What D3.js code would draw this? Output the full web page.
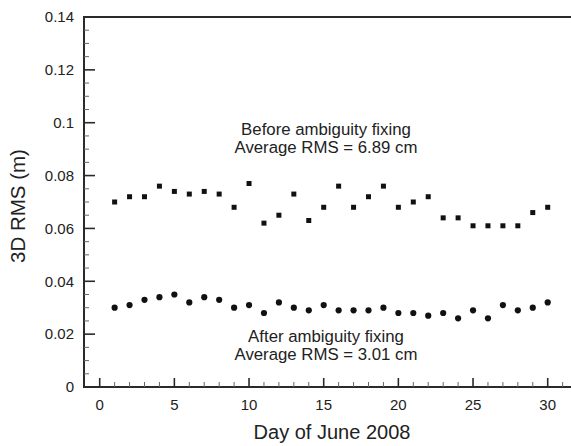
<!DOCTYPE html>
<html>
<head>
<meta charset="utf-8">
<script src="https://cdn.jsdelivr.net/npm/d3@7"></script>
<style>
  html, body { margin: 0; padding: 0; background: #fff; }
  svg { display: block; }
  text { font-family: "Liberation Sans", Arial, Helvetica, sans-serif; fill: #222; }
</style>
</head>
<body>
<svg id="chart" width="571" height="446"></svg>
<script>
// Days of June 2008
const days = d3.range(1, 31);
// 3D RMS (m) before ambiguity fixing
const rmsBefore = [0.070, 0.072, 0.072, 0.076, 0.074, 0.073, 0.074, 0.073, 0.068, 0.077,
                   0.062, 0.065, 0.073, 0.063, 0.068, 0.076, 0.068, 0.072, 0.076, 0.068,
                   0.070, 0.072, 0.064, 0.064, 0.061, 0.061, 0.061, 0.061, 0.066, 0.068];
// 3D RMS (m) after ambiguity fixing
const rmsAfter = [0.030, 0.031, 0.033, 0.034, 0.035, 0.032, 0.034, 0.033, 0.030, 0.031,
                  0.028, 0.032, 0.030, 0.029, 0.031, 0.029, 0.029, 0.029, 0.030, 0.028,
                  0.028, 0.027, 0.028, 0.026, 0.029, 0.026, 0.031, 0.029, 0.030, 0.032];
const xTicks = [0, 5, 10, 15, 20, 25, 30];
const yTicks = [0, 0.02, 0.04, 0.06, 0.08, 0.1, 0.12, 0.14];
const yTickLabels = ["0", "0.02", "0.04", "0.06", "0.08", "0.1", "0.12", "0.14"];
const labelBefore = ["Before ambiguity fixing", "Average RMS = 6.89 cm"];
const labelAfter = ["After ambiguity fixing", "Average RMS = 3.01 cm"];

const svg = d3.select("#chart");

const x = d3.scaleLinear().domain([0, 30]).range([99.7, 547.7]);
const y = d3.scaleLinear().domain([0, 0.14]).range([387, 17]);
const xLeft = x.invert(84);
const xRight = x.invert(580);

const axisColor = "#2a2a2a";

// Bottom axis: inward ticks, majors every 5 days, minors every day
const bottom = svg.append("g").attr("transform", `translate(0,${y(0)})`);
bottom.append("line").attr("x1", x(xLeft)).attr("x2", x(xRight))
  .attr("stroke", axisColor).attr("stroke-width", 2);
bottom.selectAll("line.minor").data(d3.range(0, 32).filter(d => d % 5 !== 0))
  .join("line").attr("class", "minor")
  .attr("x1", d => x(d)).attr("x2", d => x(d)).attr("y1", 0).attr("y2", -5)
  .attr("stroke", "#666").attr("stroke-width", 1);
bottom.selectAll("line.major").data(xTicks)
  .join("line").attr("class", "major")
  .attr("x1", d => x(d)).attr("x2", d => x(d)).attr("y1", 0).attr("y2", -9)
  .attr("stroke", axisColor).attr("stroke-width", 1.6);
bottom.selectAll("text").data(xTicks).join("text")
  .attr("x", d => x(d)).attr("y", 23)
  .attr("text-anchor", "middle").attr("font-size", 15)
  .text(d => d);

// Left axis: inward ticks, majors every 0.02, minors every 0.005
const left = svg.append("g").attr("transform", `translate(${x(xLeft)},0)`);
left.append("line").attr("y1", y(0) + 1).attr("y2", y(0.14) - 1)
  .attr("stroke", axisColor).attr("stroke-width", 2);
left.selectAll("line.minor").data(d3.range(0, 28).map(i => i * 0.005).filter((d, i) => i % 4 !== 0))
  .join("line").attr("class", "minor")
  .attr("x1", 0).attr("x2", 5).attr("y1", d => y(d)).attr("y2", d => y(d))
  .attr("stroke", "#666").attr("stroke-width", 1);
left.selectAll("line.major").data(yTicks)
  .join("line").attr("class", "major")
  .attr("x1", 0).attr("x2", 11).attr("y1", d => y(d)).attr("y2", d => y(d))
  .attr("stroke", axisColor).attr("stroke-width", 1.6);
left.selectAll("text").data(yTicks).join("text")
  .attr("x", -10).attr("y", d => y(d)).attr("dy", "0.35em")
  .attr("text-anchor", "end").attr("font-size", 15)
  .text((d, i) => yTickLabels[i]);

// Top frame line
svg.append("line").attr("x1", x(xLeft) - 1).attr("x2", x(xRight))
  .attr("y1", y(0.14)).attr("y2", y(0.14))
  .attr("stroke", axisColor).attr("stroke-width", 2);

// Axis titles
svg.append("text").attr("x", 332).attr("y", 439)
  .attr("text-anchor", "middle").attr("font-size", 20)
  .text("Day of June 2008");
svg.append("text")
  .attr("transform", "translate(25,206) rotate(-90)")
  .attr("text-anchor", "middle").attr("font-size", 20.5)
  .text("3D RMS (m)");

// Series: squares before fixing, dots after fixing
const sq = 5;
svg.append("g").selectAll("rect").data(days).join("rect")
  .attr("x", d => x(d) - sq / 2).attr("y", (d, i) => y(rmsBefore[i]) - sq / 2)
  .attr("width", sq).attr("height", sq).attr("fill", "#111");
svg.append("g").selectAll("circle").data(days).join("circle")
  .attr("cx", d => x(d)).attr("cy", (d, i) => y(rmsAfter[i]))
  .attr("r", 3.1).attr("fill", "#111");

// Annotations: two stacked lines per series
function annotate(lines, cx, baseline) {
  lines.forEach((s, i) => {
    svg.append("text").attr("text-anchor", "middle").attr("font-size", 16.8)
      .attr("x", cx).attr("y", baseline + i * 17.5).text(s);
  });
}
annotate(labelBefore, 326, 135);
annotate(labelAfter, 326, 342);
</script>
</body>
</html>
